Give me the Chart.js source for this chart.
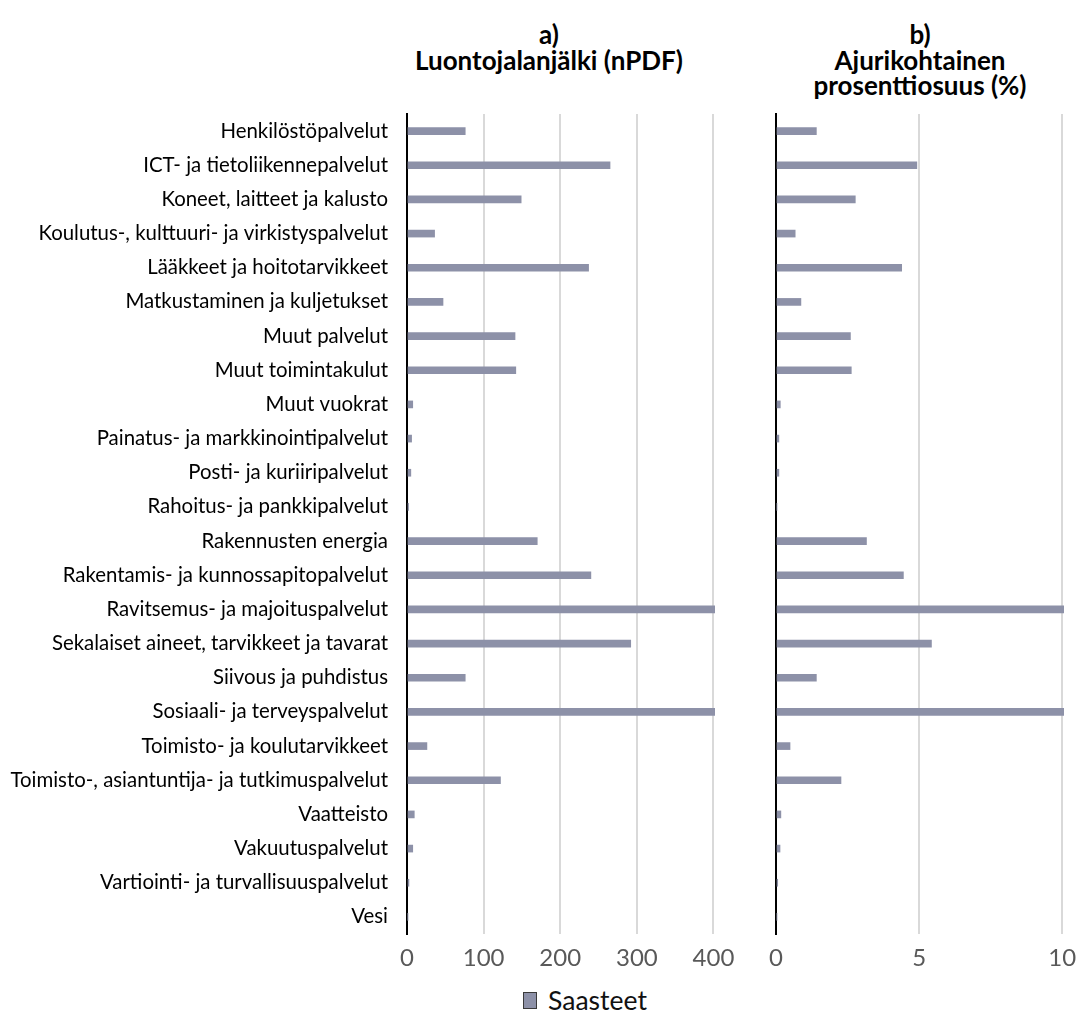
<!DOCTYPE html>
<html>
<head>
<meta charset="utf-8">
<script src="https://cdn.jsdelivr.net/npm/chart.js@4.4.1/dist/chart.umd.min.js"></script>
<style>
  html, body { margin: 0; padding: 0; background: #fff; }
  body { position: relative; width: 1080px; height: 1014px; overflow: hidden; font-family: Lato, "Noto Sans", sans-serif; }
  .title { position: absolute; top: 22px; width: 400px; text-align: center; font: bold 26px Lato, "Noto Sans", sans-serif; line-height: 25.5px; color: #000; }
  #leftTitle { left: 349px; }
  #rightTitle { left: 720px; }
  #leftChart { position: absolute; left: 0; top: 100px; }
  #rightChart { position: absolute; left: 740px; top: 100px; }
  #legend { position: absolute; left: 0; width: 1080px; top: 986px; height: 28px; display: flex; justify-content: center; align-items: center; padding-left: 90px; box-sizing: border-box; }
  .swatch { width: 14px; height: 17px; border: 1px solid #3a3a3a; margin-right: 11px; box-sizing: border-box; }
  .legText { font: 26.5px Lato, "Noto Sans", sans-serif; color: #111; line-height: 28px; }
</style>
</head>
<body>
<div class="title" id="leftTitle">a)<br>Luontojalanjälki (nPDF)</div>
<div class="title" id="rightTitle">b)<br>Ajurikohtainen<br>prosenttiosuus (%)</div>
<canvas id="leftChart" width="737" height="884"></canvas>
<canvas id="rightChart" width="340" height="884"></canvas>
<div id="legend"></div>

<script>
// Procurement categories
const categories = [
  "Henkilöstöpalvelut",
  "ICT- ja tietoliikennepalvelut",
  "Koneet, laitteet ja kalusto",
  "Koulutus-, kulttuuri- ja virkistyspalvelut",
  "Lääkkeet ja hoitotarvikkeet",
  "Matkustaminen ja kuljetukset",
  "Muut palvelut",
  "Muut toimintakulut",
  "Muut vuokrat",
  "Painatus- ja markkinointipalvelut",
  "Posti- ja kuriiripalvelut",
  "Rahoitus- ja pankkipalvelut",
  "Rakennusten energia",
  "Rakentamis- ja kunnossapitopalvelut",
  "Ravitsemus- ja majoituspalvelut",
  "Sekalaiset aineet, tarvikkeet ja tavarat",
  "Siivous ja puhdistus",
  "Sosiaali- ja terveyspalvelut",
  "Toimisto- ja koulutarvikkeet",
  "Toimisto-, asiantuntija- ja tutkimuspalvelut",
  "Vaatteisto",
  "Vakuutuspalvelut",
  "Vartiointi- ja turvallisuuspalvelut",
  "Vesi"
];

const seriesName = "Saasteet";

// a) Biodiversity footprint (nPDF); the two largest run past the axis end
const footprintValues = [76, 265, 149, 36, 237, 47, 141, 142, 7.5, 6, 5, 2, 170, 240, 402, 292, 76, 402, 26, 122, 9.5, 7.5, 2.5, 1];

// b) Share of the pressure driver (%)
const shareValues = [1.41, 4.92, 2.77, 0.67, 4.39, 0.87, 2.60, 2.63, 0.15, 0.10, 0.10, 0.03, 3.16, 4.45, 10.06, 5.43, 1.41, 10.06, 0.49, 2.27, 0.17, 0.14, 0.06, 0.03];

// Axis ranges and tick steps
const footprintTicks = [0, 100, 200, 300, 400];
const shareTicks = [0, 5, 10];
const footprintMax = 402;
const shareMax = 10.06;

const barColor = "#8d91a8";
const gridColor = "#d9d9d9";
const tickColor = "#595959";
const fontFamily = "Lato, 'Noto Sans', sans-serif";

function makeChart(canvasId, values, tickList, maxValue, opts) {
  return new Chart(document.getElementById(canvasId), {
    type: "bar",
    data: {
      labels: categories,
      datasets: [{
        label: seriesName,
        data: values,
        backgroundColor: barColor,
        borderWidth: 0,
        barThickness: 7
      }]
    },
    options: {
      indexAxis: "y",
      responsive: false,
      animation: false,
      devicePixelRatio: 1,
      layout: { padding: { top: 14, right: opts.rightPad, bottom: 0, left: 0 } },
      plugins: {
        legend: { display: false },
        tooltip: { enabled: false },
        title: { display: false }
      },
      scales: {
        x: {
          type: "linear",
          min: 0,
          max: maxValue,
          afterBuildTicks: (scale) => {
            scale.ticks = tickList.map(v => ({ value: v }));
          },
          afterFit: (scale) => {
            scale.height = 50;
            scale.paddingLeft = 0;
            scale.paddingRight = 0;
          },
          grid: { color: gridColor, lineWidth: 2, drawTicks: false },
          border: { display: false },
          ticks: {
            color: tickColor,
            padding: 10,
            font: { family: fontFamily, size: 24 },
            maxRotation: 0
          }
        },
        y: {
          type: "category",
          afterFit: (scale) => {
            scale.width = opts.yWidth;
            scale.paddingTop = 0;
            scale.paddingBottom = 0;
          },
          grid: { display: false, drawTicks: false },
          border: { display: true, color: "#000", width: 2 },
          ticks: {
            display: opts.showLabels,
            color: "#000",
            padding: 19,
            autoSkip: false,
            font: { family: fontFamily, size: 20.4 }
          }
        }
      }
    }
  });
}

const leftChart = makeChart("leftChart", footprintValues, footprintTicks, footprintMax,
  { yWidth: 407, rightPad: 22, showLabels: true });
const rightChart = makeChart("rightChart", shareValues, shareTicks, shareMax,
  { yWidth: 36, rightPad: 16, showLabels: false });

// Shared legend built from the chart's own legend items
const legendBox = document.getElementById("legend");
leftChart.options.plugins.legend.labels.generateLabels(leftChart).forEach(item => {
  const sw = document.createElement("span");
  sw.className = "swatch";
  sw.style.background = item.fillStyle;
  const tx = document.createElement("span");
  tx.className = "legText";
  tx.textContent = item.text;
  legendBox.appendChild(sw);
  legendBox.appendChild(tx);
});
</script>
</body>
</html>
